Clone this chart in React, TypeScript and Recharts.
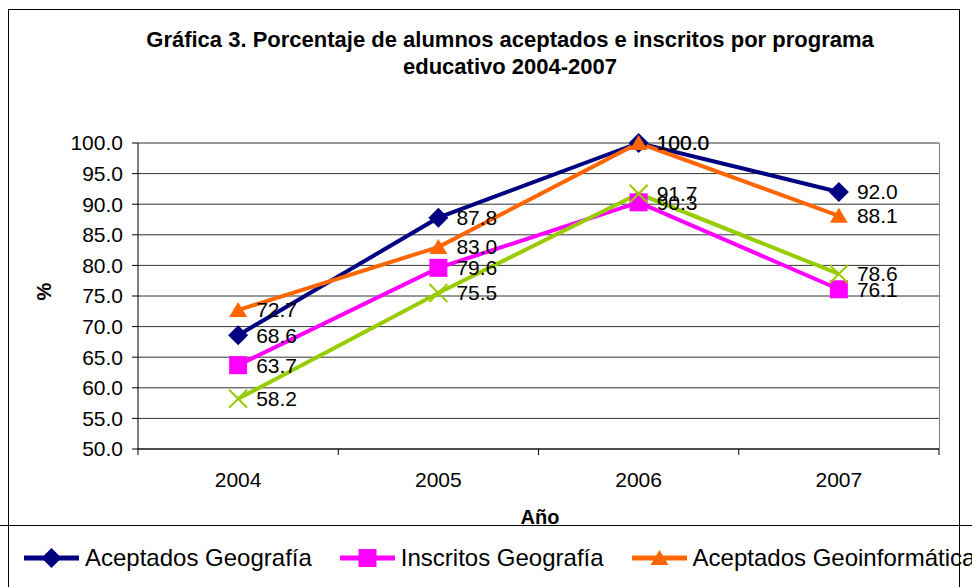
import React from 'react';
import {
    LineChart,
    Line,
    XAxis,
    YAxis,
    CartesianGrid,
    LabelList
} from 'recharts';

const years = [2004, 2005, 2006, 2007];
const aceptadosGeografia = [68.6, 87.8, 100.0, 92.0];
const inscritosGeografia = [63.7, 79.6, 90.3, 76.1];
const aceptadosGeoinformatica = [72.7, 83.0, 100.0, 88.1];
const inscritosGeoinformatica = [58.2, 75.5, 91.7, 78.6];
const yTicks = [50, 55, 60, 65, 70, 75, 80, 85, 90, 95, 100];
// half steps are the tick marks between categories, whole years carry the labels
const xTicks = [2003.5, 2004, 2004.5, 2005, 2005.5, 2006, 2006.5, 2007, 2007.5];

const data = years.map((year, i) => ({
    year,
    ag: aceptadosGeografia[i],
    ig: inscritosGeografia[i],
    agi: aceptadosGeoinformatica[i],
    igi: inscritosGeoinformatica[i]
}));

const FONT = '"Liberation Sans", Arial, sans-serif';
const NAVY = '#000080';
const MAGENTA = '#FF00FF';
const ORANGE = '#FF6600';
const GREEN = '#99CC00';

const Diamond = ({ cx, cy }: any) => (
    <path d={`M${cx},${cy - 10}L${cx + 10},${cy}L${cx},${cy + 10}L${cx - 10},${cy}Z`} fill={NAVY} />
);
const Square = ({ cx, cy }: any) => (
    <rect x={cx - 9} y={cy - 9} width={18} height={18} fill={MAGENTA} />
);
const Triangle = ({ cx, cy }: any) => (
    <path d={`M${cx},${cy - 8}L${cx + 9},${cy + 7}L${cx - 9},${cy + 7}Z`} fill={ORANGE} />
);
const Cross = ({ cx, cy }: any) => (
    <path d={`M${cx - 9},${cy - 9}L${cx + 9},${cy + 9}M${cx + 9},${cy - 9}L${cx - 9},${cy + 9}`} stroke={GREEN} strokeWidth={2} />
);

const ValueLabel = ({ x, y, value }: any) => (
    <text x={x + 18} y={y} dy="0.35em" fontSize={21} fontFamily={FONT} fill="#000">
        {Number(value).toFixed(1)}
    </text>
);

const XTick = ({ x, y, payload }: any) => {
    if (payload.value % 1 !== 0) {
        return <line x1={x} y1={y} x2={x} y2={y + 6} stroke="#000" />;
    }
    return (
        <text x={x} y={y + 31} dy="0.35em" textAnchor="middle" fontSize={21} fontFamily={FONT} fill="#000">
            {payload.value}
        </text>
    );
};

const series = [
    { key: 'ag', name: 'Aceptados Geografía', color: NAVY, dot: Diamond },
    { key: 'ig', name: 'Inscritos Geografía', color: MAGENTA, dot: Square },
    { key: 'agi', name: 'Aceptados Geoinformática', color: ORANGE, dot: Triangle },
    { key: 'igi', name: 'Inscritos Geoinformática', color: GREEN, dot: Cross }
];

const LegendIcon = ({ color, dot: Dot }: any) => (
    <svg width={55} height={22} style={{ marginRight: 6 }}>
        <line x1={0} y1={11} x2={55} y2={11} stroke={color} strokeWidth={5} />
        <Dot cx={27.5} cy={11} />
    </svg>
);

export default function App() {
    return (
        <div style={{ position: 'absolute', left: 0, top: 0, width: 972, height: 587, background: '#fff', overflow: 'hidden', fontFamily: FONT }}>
            <div style={{ position: 'absolute', left: 8, top: 9, width: 952, height: 600, border: '1px solid #000', boxSizing: 'border-box' }} />
            <div style={{ position: 'absolute', left: 0, top: 525, width: 972, height: 0, borderTop: '1px solid #000' }} />
            <div style={{ position: 'absolute', left: 0, top: 26, width: 1020, textAlign: 'center', fontWeight: 'bold', fontSize: 22, lineHeight: '27px' }}>
                Gráfica 3. Porcentaje de alumnos aceptados e inscritos por programa<br />educativo 2004-2007
            </div>
            <LineChart width={972} height={587} data={data} margin={{ top: 143, right: 33, bottom: 98, left: 0 }} style={{ position: 'absolute', left: 0, top: 0 }}>
                <CartesianGrid vertical={false} stroke="#333" />
                <XAxis
                    dataKey="year"
                    type="number"
                    domain={[2003.5, 2007.5]}
                    ticks={xTicks}
                    interval={0}
                    height={40}
                    tickSize={0}
                    tickMargin={0}
                    tick={<XTick />}
                    axisLine={{ stroke: '#000' }}
                />
                <YAxis
                    domain={[50, 100]}
                    ticks={yTicks}
                    interval={0}
                    width={138}
                    tickSize={6}
                    tickMargin={9}
                    tickFormatter={(v: number) => v.toFixed(1)}
                    tick={{ fill: '#000', fontSize: 21, fontFamily: FONT }}
                    tickLine={{ stroke: '#000' }}
                    axisLine={{ stroke: '#000' }}
                />
                {series.map((s) => (
                    <Line
                        key={s.key}
                        dataKey={s.key}
                        name={s.name}
                        stroke={s.color}
                        strokeWidth={4}
                        dot={<s.dot />}
                        activeDot={false}
                        isAnimationActive={false}
                    >
                        <LabelList dataKey={s.key} content={<ValueLabel />} />
                    </Line>
                ))}
            </LineChart>
            <div style={{ position: 'absolute', left: 939, top: 143, width: 0, height: 306, borderLeft: '1px solid #808080' }} />
            <div style={{ position: 'absolute', left: 0, top: 506, width: 1080, textAlign: 'center', fontWeight: 'bold', fontSize: 20 }}>
                Año
            </div>
            <div style={{ position: 'absolute', left: 36, top: 280, fontWeight: 'bold', fontSize: 20, transform: 'rotate(-90deg)' }}>
                %
            </div>
            <div style={{ position: 'absolute', left: 24, top: 544, display: 'flex', alignItems: 'center', whiteSpace: 'nowrap', fontSize: 24 }}>
                {series.map((s) => (
                    <div key={s.key} style={{ display: 'flex', alignItems: 'center', marginRight: 28 }}>
                        <LegendIcon color={s.color} dot={s.dot} />
                        <span>{s.name}</span>
                    </div>
                ))}
            </div>
        </div>
    );
}
